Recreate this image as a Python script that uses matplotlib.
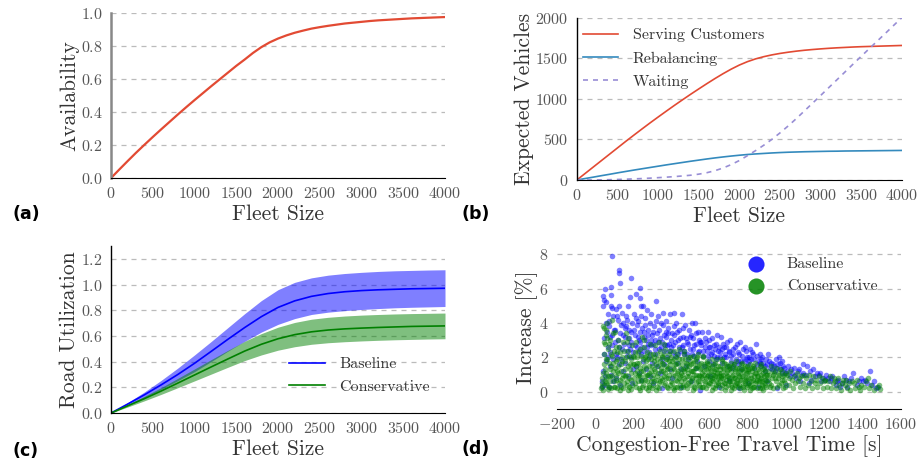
import matplotlib
matplotlib.use("Agg")
import matplotlib.pyplot as plt
import numpy as np

plt.rcParams['font.family'] = 'serif'
plt.rcParams['font.serif'] = ['cmr10']
plt.rcParams['mathtext.fontset'] = 'cm'
plt.rcParams['axes.formatter.use_mathtext'] = True

# fleet sizes for panels (a), (b)
fleet = list(range(0, 4001, 100))
availability = [0, .052, .103, .153, .201, .248, .294, .339, .384, .428, .471,
                .513, .555, .596, .637, .678, .716, .756, .791, .820, .843,
                .862, .878, .891, .903, .912, .920, .927, .934, .939, .944,
                .949, .953, .956, .959, .962, .965, .967, .969, .971, .973]
serving = [0, 79, 158, 237, 316, 395, 474, 551, 627, 702, 775, 847, 918, 987,
           1055, 1121, 1186, 1249, 1309, 1365, 1415, 1457, 1491, 1518, 1540,
           1558, 1573, 1586, 1597, 1606, 1614, 1621, 1627, 1632, 1637, 1641,
           1644, 1647, 1650, 1653, 1656]
rebalancing = [0, 18, 35, 53, 70, 88, 105, 122, 138, 154, 170, 186, 201, 216,
               231, 245, 259, 272, 284, 295, 305, 314, 321, 327, 333, 338, 342,
               345, 348, 350, 352, 354, 355, 357, 358, 359, 360, 361, 362, 363, 364]
waiting = [0, 0, 1, 2, 4, 7, 10, 14, 18, 23, 29, 35, 42, 50, 59, 72, 90, 115,
           148, 190, 240, 300, 362, 428, 500, 580, 665, 755, 850, 945, 1040,
           1137, 1233, 1330, 1427, 1523, 1618, 1713, 1808, 1904, 2000]

# panel (c)
fleet_c = list(range(0, 4001, 200))
base_mid = [0, .070, .142, .219, .300, .387, .480, .574, .665, .750, .822,
            .873, .908, .930, .944, .953, .959, .963, .967, .969, .971]
base_hi = [0, .081, .164, .254, .350, .452, .557, .665, .773, .875, .960,
           1.017, 1.052, 1.073, 1.086, 1.095, 1.102, 1.107, 1.110, 1.113, 1.115]
base_lo = [0, .059, .120, .184, .252, .322, .401, .482, .558, .630, .690,
           .735, .767, .785, .797, .806, .813, .819, .823, .826, .829]
cons_mid = [0, .056, .112, .171, .233, .296, .359, .421, .482, .535, .578,
            .610, .632, .646, .655, .661, .666, .670, .674, .676, .678]
cons_hi = [0, .065, .130, .198, .270, .343, .416, .488, .558, .618, .668,
           .705, .730, .745, .755, .762, .767, .771, .774, .776, .778]
cons_lo = [0, .047, .095, .145, .197, .250, .303, .356, .408, .452, .489,
           .516, .535, .547, .555, .561, .566, .570, .573, .576, .578]

# panel (d): (congestion-free travel time [s], increase [%])
baseline_pts = [
    (35, 0.3), (38, 0.6), (42, 1.2), (45, 2.2), (48, 3.1), (40, 5.56), (44, 5.34), (54, 5.2),
    (51, 5.98), (40, 5.0), (55, 4.0), (58, 1.8), (52, 0.9), (47, 0.4),
    (82, 6.12), (82, 5.6), (87, 7.88), (82, 5.0), (65, 4.5), (70, 3.8), (75, 3.2), (90, 2.7),
    (95, 4.4), (68, 2.0), (78, 1.5), (85, 1.0), (92, 0.6), (72, 0.3), (98, 3.6), (88, 4.9),
    (127, 7.09), (127, 6.9), (129, 6.33), (127, 5.0), (110, 4.8), (118, 4.2), (135, 3.9),
    (145, 3.3), (105, 2.9), (140, 2.5), (115, 2.0), (125, 1.6), (148, 1.2), (108, 0.8),
    (132, 0.4), (120, 3.0), (138, 4.6),
    (187, 6.6), (180, 5.5), (170, 5.0), (160, 4.4), (195, 4.0), (175, 3.6), (155, 3.2),
    (190, 2.9), (165, 2.4), (185, 2.0), (158, 1.7), (198, 1.3), (172, 0.9), (192, 0.5),
    (162, 3.8), (178, 2.7),
    (215, 5.69), (235, 6.04), (232, 5.45), (238, 5.0), (250, 5.0), (205, 4.5), (225, 4.1),
    (245, 3.7), (210, 3.3), (230, 3.0), (220, 2.6), (240, 2.2), (248, 1.8), (212, 1.5),
    (228, 1.1), (242, 0.7), (218, 3.9), (236, 2.9),
    (270, 4.75), (260, 4.3), (285, 4.0), (275, 3.6), (295, 3.3), (265, 3.0), (290, 2.7),
    (255, 2.4), (280, 2.0), (298, 1.7), (268, 1.3), (288, 0.9), (258, 3.5), (278, 2.8),
    (292, 4.5),
    (319, 5.26), (330, 4.4), (345, 4.0), (310, 3.8), (325, 3.4), (340, 3.1), (305, 2.8),
    (335, 2.5), (315, 2.2), (348, 1.9), (322, 1.5), (338, 1.1), (312, 3.0), (342, 2.6),
    (355, 4.6), (390, 4.55), (370, 4.1), (380, 3.7), (360, 3.3), (395, 3.0), (365, 2.7),
    (385, 2.4), (375, 2.0), (358, 1.6), (392, 1.3), (372, 3.5), (388, 2.8),
    (410, 4.6), (425, 4.0), (440, 3.6), (415, 3.3), (435, 3.0), (405, 2.7), (445, 2.4),
    (420, 2.1), (430, 1.7), (448, 1.3), (412, 3.8), (438, 2.6),
    (455, 4.5), (470, 3.9), (490, 3.6), (460, 3.2), (480, 2.9), (495, 2.5), (465, 2.2),
    (485, 1.9), (475, 1.5), (498, 3.2), (462, 2.7),
    (505, 4.0), (520, 4.0), (540, 3.5), (510, 3.1), (530, 2.8), (545, 2.4), (515, 2.1),
    (535, 1.8), (525, 1.4), (548, 2.9), (512, 2.5),
    (560, 3.5), (590, 3.5), (575, 3.1), (555, 2.7), (585, 2.4), (565, 2.1), (595, 1.8),
    (570, 1.5), (580, 2.9), (598, 2.6),
    (610, 3.1), (635, 3.3), (620, 2.7), (645, 2.4), (605, 2.2), (630, 1.9), (615, 1.6),
    (640, 2.0), (625, 2.5),
    (660, 3.2), (690, 2.9), (675, 2.6), (655, 2.3), (685, 2.0), (665, 1.7), (695, 1.5),
    (680, 2.2), (670, 2.8),
    (705, 3.0), (740, 2.8), (720, 2.5), (710, 2.1), (735, 1.9), (725, 1.6), (745, 2.3),
    (715, 1.4),
    (760, 2.9), (790, 2.4), (770, 2.1), (780, 1.8), (755, 1.6), (795, 2.0), (765, 1.3),
    (785, 2.6),
    (810, 2.5), (840, 2.8), (825, 2.2), (815, 1.9), (845, 1.6), (830, 1.4), (805, 2.0),
    (860, 2.2), (880, 1.7), (895, 1.9), (870, 1.5), (890, 1.2), (855, 1.8), (875, 2.0),
    (905, 2.2), (930, 1.6), (945, 1.9), (915, 1.4), (940, 1.2), (920, 1.7),
    (960, 2.0), (985, 1.5), (970, 1.3), (995, 1.1), (955, 1.6), (980, 1.8),
    (1010, 1.5), (1040, 1.4), (1060, 1.2), (1080, 1.0), (1030, 1.1), (1090, 1.6),
    (1050, 0.8), (1020, 0.9), (1070, 0.6),
    (1110, 1.5), (1140, 1.3), (1170, 1.0), (1190, 0.8), (1130, 0.7), (1160, 1.1),
    (1120, 0.5), (1180, 0.6),
    (1210, 1.0), (1240, 0.9), (1270, 0.7), (1290, 0.5), (1230, 0.6), (1260, 0.4),
    (1220, 0.8), (1280, 0.3),
    (1310, 0.7), (1330, 0.6), (1350, 1.1), (1370, 0.4), (1390, 0.8), (1320, 0.3), (1380, 0.6),
    (1410, 0.7), (1440, 1.2), (1460, 0.6), (1480, 0.3), (1420, 0.5), (1450, 0.4), (1470, 0.2),
    (300, 0.5), (400, 0.8), (500, 0.6), (600, 0.9), (700, 0.7), (800, 0.5), (900, 0.6),
    (1000, 0.4), (350, 0.2), (450, 0.3), (550, 0.1), (650, 0.3), (750, 0.2), (850, 0.3),
    (950, 0.2),
    (60, 3.5), (66, 2.6), (74, 4.1), (79, 2.3), (86, 3.3), (94, 1.9), (103, 3.6), (109, 2.2),
    (114, 4.4), (122, 2.6), (131, 3.4), (137, 1.9), (143, 4.0), (151, 2.8), (157, 3.7),
    (164, 2.1), (169, 4.2), (176, 3.1), (183, 2.5), (189, 3.5), (196, 2.3), (203, 3.6),
    (208, 2.7), (214, 4.3), (222, 3.2), (227, 2.4), (233, 3.5), (239, 4.4), (246, 2.6),
    (253, 3.2), (262, 3.9), (269, 2.6), (277, 3.3), (283, 2.3), (294, 3.0), (303, 3.5),
    (311, 2.5), (318, 4.1), (327, 2.9), (333, 3.6), (347, 2.9), (353, 3.9), (362, 2.4),
    (368, 3.2), (377, 2.7), (383, 3.4), (397, 2.6), (402, 3.4), (408, 2.3), (418, 2.9),
    (427, 3.5), (433, 2.2), (443, 3.1), (452, 2.6), (458, 3.7), (467, 2.4), (473, 3.1),
    (482, 2.2), (488, 2.8), (503, 3.3), (508, 2.2), (518, 2.7), (527, 3.4), (537, 2.3),
    (543, 3.0), (553, 2.9), (562, 2.4), (573, 2.6), (588, 2.1), (593, 3.0), (603, 2.6),
    (612, 2.3), (622, 2.1), (633, 2.8), (648, 2.6), (652, 2.0), (663, 2.5), (672, 2.0),
    (683, 2.6), (698, 2.3), (702, 2.4), (713, 1.8), (723, 2.2), (732, 2.6), (748, 1.8),
    (753, 2.2), (762, 1.8), (773, 2.5), (788, 1.9), (798, 1.6), (803, 1.8), (818, 2.3),
    (833, 1.9), (848, 2.1), (863, 1.7), (868, 1.9), (886, 1.5), (898, 1.6), (908, 1.8),
    (925, 1.3), (935, 1.5), (952, 1.4), (965, 1.7), (975, 1.1), (990, 1.4), (1005, 1.2),
    (1025, 1.3), (1045, 1.0), (1065, 1.3), (1085, 1.1), (1105, 1.0), (1125, 1.2),
    (1150, 0.9), (1175, 1.1), (1200, 0.7), (1235, 0.8), (1265, 0.6), (1300, 0.9),
    (1340, 0.8), (1400, 0.6),
]
conservative_pts = [
    (32, 0.2), (34, 0.5), (36, 0.8), (38, 0.35), (40, 1.1), (42, 3.8), (44, 1.6), (46, 2.9),
    (48, 3.7), (43, 0.1), (47, 2.2), (49, 0.6),
    (52, 2.75), (55, 3.3), (60, 4.0), (58, 1.9), (53, 1.3), (65, 2.5), (70, 1.7), (75, 0.9),
    (80, 3.0), (87, 4.2), (90, 2.1), (95, 1.2), (62, 0.4), (68, 0.15), (78, 0.6), (85, 1.5),
    (72, 2.8), (98, 0.3), (57, 0.8), (92, 3.4),
    (105, 3.5), (110, 2.6), (115, 1.9), (120, 1.1), (125, 0.5), (130, 2.3), (135, 1.6),
    (140, 0.8), (145, 0.2), (148, 2.9), (102, 1.4), (108, 0.7), (118, 3.0), (128, 0.1),
    (138, 2.0), (112, 1.2),
    (152, 2.4), (158, 1.8), (163, 1.0), (168, 0.4), (172, 3.1), (177, 2.1), (182, 1.3),
    (186, 0.7), (190, 0.15), (195, 2.7), (198, 1.6), (155, 0.9), (166, 2.9), (175, 0.3),
    (188, 1.9), (160, 3.4),
    (202, 2.0), (206, 1.1), (210, 0.5), (215, 2.9), (219, 1.7), (223, 0.9), (227, 0.2),
    (232, 2.5), (236, 1.4), (240, 0.6), (244, 3.2), (248, 1.9), (212, 1.5), (230, 1.0),
    (246, 0.3), (225, 2.3),
    (252, 1.2), (256, 2.6), (260, 0.7), (264, 1.8), (268, 0.2), (272, 2.3), (276, 1.0),
    (280, 1.5), (284, 0.4), (288, 2.8), (292, 1.9), (296, 0.8), (258, 3.0), (274, 0.1),
    (290, 1.2), (266, 2.1),
    (302, 2.2), (306, 1.3), (310, 0.6), (314, 2.7), (318, 1.6), (322, 0.3), (326, 1.9),
    (330, 1.1), (334, 0.5), (338, 2.4), (342, 1.4), (346, 0.8), (316, 0.1), (332, 2.9),
    (348, 1.7), (308, 1.8),
    (352, 2.0), (356, 1.2), (360, 0.4), (364, 2.5), (368, 1.5), (372, 0.8), (376, 1.9),
    (380, 0.2), (384, 2.2), (388, 1.0), (392, 1.6), (396, 0.6), (362, 2.8), (378, 1.3),
    (394, 2.4), (358, 0.9),
    (402, 1.8), (406, 0.9), (410, 2.4), (414, 1.3), (418, 0.3), (422, 2.0), (426, 1.1),
    (430, 0.6), (434, 1.7), (438, 2.5), (442, 0.9), (446, 1.4), (412, 0.1), (428, 2.2),
    (444, 0.4), (420, 1.6),
    (452, 1.9), (456, 1.0), (460, 0.4), (464, 2.2), (468, 1.4), (472, 0.7), (476, 1.7),
    (480, 0.2), (484, 2.0), (488, 1.1), (492, 1.5), (496, 0.6), (466, 2.4), (482, 0.9),
    (498, 1.8), (458, 1.3),
    (502, 1.6), (506, 0.8), (510, 2.1), (514, 1.2), (518, 0.3), (522, 1.8), (526, 1.0),
    (530, 0.5), (534, 1.5), (538, 2.2), (542, 0.9), (546, 1.3), (512, 0.1), (528, 1.9),
    (544, 0.4), (520, 1.4),
    (552, 1.7), (556, 0.9), (560, 0.3), (564, 2.0), (568, 1.2), (572, 0.6), (576, 1.5),
    (580, 0.2), (584, 1.8), (588, 1.0), (592, 1.4), (596, 0.5), (566, 2.1), (582, 0.8),
    (598, 1.6), (558, 1.1),
    (602, 1.4), (606, 0.7), (610, 1.9), (614, 1.0), (618, 0.3), (622, 1.6), (626, 0.9),
    (630, 0.4), (634, 1.3), (638, 1.9), (642, 0.8), (646, 1.1), (612, 0.1), (628, 1.7),
    (644, 0.5), (620, 1.2),
    (652, 1.5), (656, 0.8), (660, 0.2), (664, 1.8), (668, 1.0), (672, 0.5), (676, 1.3),
    (680, 0.1), (684, 1.6), (688, 0.9), (692, 1.2), (696, 0.4), (666, 1.9), (682, 0.7),
    (698, 1.5), (658, 1.1),
    (702, 1.3), (706, 0.6), (710, 1.7), (714, 0.9), (718, 0.3), (722, 1.5), (726, 0.8),
    (730, 0.4), (734, 1.2), (738, 1.8), (742, 0.7), (746, 1.0), (712, 0.1), (728, 1.6),
    (744, 0.5),
    (752, 1.4), (756, 0.7), (760, 0.2), (764, 1.6), (768, 0.9), (772, 0.4), (776, 1.2),
    (780, 0.1), (784, 1.5), (788, 0.8), (792, 1.1), (796, 0.3), (766, 1.7), (782, 0.6),
    (798, 1.3),
    (802, 1.2), (806, 0.5), (810, 1.6), (814, 0.8), (818, 0.2), (822, 1.4), (826, 0.7),
    (830, 0.3), (834, 1.1), (838, 1.7), (842, 0.6), (846, 0.9), (812, 0.1), (828, 1.5),
    (852, 1.3), (856, 0.6), (860, 0.2), (864, 1.5), (868, 0.8), (872, 0.4), (876, 1.1),
    (880, 0.1), (884, 1.4), (888, 0.7), (892, 1.0), (896, 0.3), (866, 1.6), (882, 0.5),
    (905, 1.2), (912, 0.5), (918, 1.5), (925, 0.8), (932, 0.2), (938, 1.1), (945, 0.6),
    (948, 1.4), (915, 0.3), (928, 1.0),
    (955, 1.1), (962, 0.4), (968, 1.3), (975, 0.7), (982, 0.2), (988, 1.0), (995, 0.5),
    (958, 0.8), (978, 1.2), (992, 0.3),
    (1005, 1.0), (1012, 0.4), (1020, 1.2), (1028, 0.7), (1035, 0.2), (1042, 0.9),
    (1048, 0.5), (1016, 0.8),
    (1055, 1.1), (1062, 0.6), (1070, 0.3), (1078, 0.9), (1085, 0.5), (1092, 1.0),
    (1098, 0.2), (1066, 0.8),
    (1105, 0.8), (1112, 0.4), (1120, 1.0), (1128, 0.6), (1135, 0.2), (1142, 0.9), (1148, 0.5),
    (1155, 0.7), (1162, 0.3), (1170, 0.9), (1178, 0.5), (1185, 0.8), (1192, 0.2), (1198, 0.6),
    (1205, 0.7), (1212, 0.3), (1220, 0.6), (1228, 0.9), (1235, 0.2), (1242, 0.5), (1248, 0.8),
    (1255, 0.6), (1262, 0.2), (1270, 0.8), (1278, 0.4), (1285, 0.1), (1292, 0.5), (1298, 0.7),
    (1305, 0.4), (1312, 0.7), (1320, 0.2), (1328, 0.5), (1335, 0.1), (1342, 0.6),
    (1355, 0.5), (1362, 0.2), (1370, 0.7), (1378, 0.3), (1385, 0.1), (1392, 0.4),
    (1405, 0.3), (1415, 0.6), (1425, 0.8), (1435, 0.2), (1445, 0.4), (1460, 0.1),
    (1475, 0.3), (1485, 0.4), (1490, 0.15),
    (54, 0.5), (59, 1.1), (63, 1.9), (67, 0.9), (71, 0.3), (76, 1.3), (81, 2.2), (84, 0.2),
    (89, 0.9), (93, 1.7), (96, 0.6), (99, 2.4), (56, 3.6), (64, 3.1),
    (103, 0.3), (107, 1.8), (111, 0.9), (116, 0.2), (121, 1.5), (126, 2.6), (131, 0.7),
    (136, 1.2), (141, 1.8), (146, 1.0), (113, 2.3), (133, 0.3),
    (151, 0.5), (156, 1.3), (161, 2.0), (165, 0.6), (170, 1.5), (174, 2.4), (179, 0.8),
    (184, 1.6), (189, 1.1), (193, 0.4), (197, 2.1), (170, 0.1),
    (201, 0.8), (205, 1.6), (209, 2.3), (213, 0.3), (217, 1.2), (221, 2.0), (226, 0.6),
    (229, 1.7), (234, 0.9), (238, 2.1), (242, 1.2), (247, 0.7), (237, 0.1),
    (251, 0.4), (255, 1.5), (259, 2.0), (263, 0.9), (267, 1.4), (271, 0.6), (275, 1.9),
    (279, 0.3), (283, 1.1), (287, 2.2), (291, 0.6), (295, 1.5), (299, 0.2), (270, 1.0),
    (301, 1.0), (305, 0.4), (309, 2.0), (313, 1.2), (317, 0.7), (321, 2.2), (325, 0.9),
    (329, 1.5), (333, 0.2), (337, 1.8), (341, 0.6), (345, 1.2), (349, 2.1),
    (351, 0.7), (355, 1.6), (359, 2.2), (363, 0.5), (367, 1.1), (371, 1.9), (375, 0.3),
    (379, 1.4), (383, 0.8), (387, 1.8), (391, 0.4), (395, 1.2), (399, 2.0),
    (401, 0.5), (405, 1.4), (409, 0.2), (413, 1.9), (417, 1.0), (421, 0.7), (425, 1.6),
    (429, 0.3), (433, 1.2), (437, 0.8), (441, 1.9), (445, 0.2), (449, 1.1),
    (451, 0.6), (455, 1.6), (459, 0.3), (463, 1.2), (467, 0.8), (471, 1.9), (475, 0.4),
    (479, 1.3), (483, 1.6), (487, 0.5), (491, 0.9), (495, 2.0), (499, 1.2),
    (501, 0.4), (505, 1.2), (509, 0.7), (513, 1.7), (517, 1.0), (521, 0.2), (525, 1.4),
    (529, 0.8), (533, 2.0), (537, 0.6), (541, 1.6), (545, 1.0), (549, 0.3),
    (551, 0.6), (555, 1.4), (559, 0.8), (563, 0.3), (567, 1.6), (571, 1.0), (575, 0.5),
    (579, 1.3), (583, 0.9), (587, 1.7), (591, 0.4), (595, 1.1), (599, 0.8),
    (601, 0.5), (605, 1.2), (609, 0.8), (613, 1.5), (617, 0.6), (621, 1.0), (625, 0.2),
    (629, 1.3), (633, 0.7), (637, 1.1), (641, 0.4), (645, 1.5), (649, 0.9),
    (651, 0.6), (655, 1.3), (659, 0.9), (663, 0.4), (667, 1.4), (671, 0.8), (675, 1.7),
    (679, 0.5), (683, 1.1), (687, 0.3), (691, 1.5), (695, 0.9), (699, 0.6),
    (701, 0.8), (705, 1.4), (709, 0.4), (713, 1.2), (717, 0.6), (721, 1.0), (725, 0.2),
    (729, 1.3), (733, 0.8), (737, 0.5), (741, 1.4), (745, 0.3), (749, 1.1),
    (751, 0.9), (755, 0.4), (759, 1.2), (763, 0.7), (767, 1.3), (771, 0.3), (775, 0.9),
    (779, 1.4), (783, 0.5), (787, 1.1), (791, 0.7), (795, 1.5), (799, 0.4),
    (801, 0.8), (805, 1.3), (809, 0.4), (813, 1.0), (817, 0.6), (821, 1.2), (825, 0.3),
    (829, 0.9), (833, 1.4), (837, 0.5), (841, 1.1), (845, 0.2), (849, 0.7),
    (851, 0.9), (855, 0.4), (859, 1.2), (863, 0.7), (867, 1.0), (871, 0.2), (875, 0.6),
    (879, 1.3), (883, 0.9), (887, 0.4), (891, 1.2), (895, 0.7), (899, 1.0),
    (902, 0.7), (910, 1.0), (920, 0.4), (930, 1.2), (940, 0.8), (950, 0.3), (960, 1.0),
    (970, 0.5), (980, 0.9), (990, 0.7), (998, 1.1),
]

TICK_C = '#555555'
LABEL_C = '#333333'
GRID_KW = dict(color='#bbbbbb', linestyle=(0, (4, 4)), linewidth=0.9)


def style(ax, left_color='black', left_lw=1.0):
    ax.spines['top'].set_visible(False)
    ax.spines['right'].set_visible(False)
    ax.spines['left'].set_color(left_color)
    ax.spines['left'].set_linewidth(left_lw)
    ax.spines['bottom'].set_color('black')
    ax.tick_params(length=0, labelsize=11.5, labelcolor=TICK_C, pad=6)
    ax.yaxis.grid(True, **GRID_KW)
    ax.set_axisbelow(True)


fig = plt.figure(figsize=(9.2, 4.66), dpi=100)
ax_a = fig.add_axes([0.1207, 0.618, 0.363, 0.355])
ax_b = fig.add_axes([0.627, 0.6137, 0.3533, 0.3487])
ax_c = fig.add_axes([0.1207, 0.1137, 0.363, 0.3584])
ax_d = fig.add_axes([0.6054, 0.1223, 0.3739, 0.3507])

# (a)
style(ax_a, left_color='#888888', left_lw=1.8)
ax_a.plot(fleet, availability, color='#E24A33', lw=1.6)
ax_a.set_xlim(0, 4000)
ax_a.set_ylim(0, 1.0)
ax_a.set_xticks(range(0, 4001, 500))
ax_a.set_yticks([0, 0.2, 0.4, 0.6, 0.8, 1.0])
ax_a.set_xlabel('Fleet Size', fontsize=15.5, color=LABEL_C, labelpad=2)
ax_a.set_ylabel('Availability', fontsize=15.5, color=LABEL_C, labelpad=1)

# (b)
style(ax_b)
ax_b.plot(fleet, serving, color='#E24A33', lw=1.2, label='Serving Customers')
ax_b.plot(fleet, rebalancing, color='#348ABD', lw=1.2, label='Rebalancing')
ax_b.plot(fleet, waiting, color='#988ED5', lw=1.2, dashes=(3, 3), label='Waiting')
ax_b.set_xlim(0, 4000)
ax_b.set_ylim(0, 2000)
ax_b.set_xticks(range(0, 4001, 500))
ax_b.set_yticks(range(0, 2001, 500))
ax_b.set_xlabel('Fleet Size', fontsize=15.5, color=LABEL_C, labelpad=2)
ax_b.set_ylabel('Expected Vehicles', fontsize=15.5, color=LABEL_C, labelpad=1)
leg = ax_b.legend(loc='upper left', bbox_to_anchor=(0.0, 0.975), frameon=False,
                  fontsize=11.5, handlelength=2.2, handletextpad=0.9,
                  labelspacing=0.58, borderaxespad=0)
for t in leg.get_texts():
    t.set_color(LABEL_C)

# (c)
style(ax_c)
ax_c.fill_between(fleet_c, base_lo, base_hi, color='blue', alpha=0.5, lw=0)
ax_c.fill_between(fleet_c, cons_lo, cons_hi, color='green', alpha=0.5, lw=0)
ax_c.plot(fleet_c, base_mid, color='blue', lw=1.2, label='Baseline')
ax_c.plot(fleet_c, cons_mid, color='green', lw=1.2, label='Conservative')
ax_c.set_xlim(0, 4000)
ax_c.set_ylim(0, 1.3)
ax_c.set_xticks(range(0, 4001, 500))
ax_c.set_yticks([0, 0.2, 0.4, 0.6, 0.8, 1.0, 1.2])
ax_c.set_xlabel('Fleet Size', fontsize=15.5, color=LABEL_C, labelpad=2)
ax_c.set_ylabel('Road Utilization', fontsize=15.5, color=LABEL_C, labelpad=1)
leg = ax_c.legend(loc='center left', bbox_to_anchor=(0.515, 0.225), frameon=False,
                  fontsize=11.5, handlelength=2.2, handletextpad=0.9,
                  labelspacing=0.5, borderaxespad=0)
for t in leg.get_texts():
    t.set_color(LABEL_C)

# (d)
style(ax_d)
ax_d.spines['left'].set_visible(False)
bx, by = zip(*baseline_pts)
gx, gy = zip(*conservative_pts)
ax_d.scatter(bx, by, s=16, color='blue', alpha=0.5, lw=0, label='Baseline')
ax_d.scatter(gx, gy, s=16, color='green', alpha=0.5, lw=0, label='Conservative')
ax_d.set_xlim(-200, 1600)
ax_d.set_ylim(-1, 8.5)
ax_d.set_xticks(range(-200, 1601, 200))
ax_d.set_yticks([0, 2, 4, 6, 8])
ax_d.set_xlabel('Congestion-Free Travel Time [s]', fontsize=15.5, color=LABEL_C, labelpad=2)
ax_d.set_ylabel('Increase [%]', fontsize=15.5, color=LABEL_C, labelpad=1)
leg = ax_d.legend(loc='center left', bbox_to_anchor=(0.515, 0.82), frameon=False,
                  fontsize=11.5, markerscale=2.9, handletextpad=0.9,
                  labelspacing=0.45, borderaxespad=0, scatterpoints=1)
for h in leg.legend_handles:
    h.set_alpha(0.85)
for t in leg.get_texts():
    t.set_color(LABEL_C)

# panel labels
for lab, x, y in [('(a)', 0.014, 0.541), ('(b)', 0.502, 0.541),
                  ('(c)', 0.014, 0.032), ('(d)', 0.502, 0.036)]:
    fig.text(x, y, lab, family='DejaVu Sans', fontweight='bold', fontsize=12.5,
             va='center', ha='left')

fig.savefig('out.png', dpi=100)
